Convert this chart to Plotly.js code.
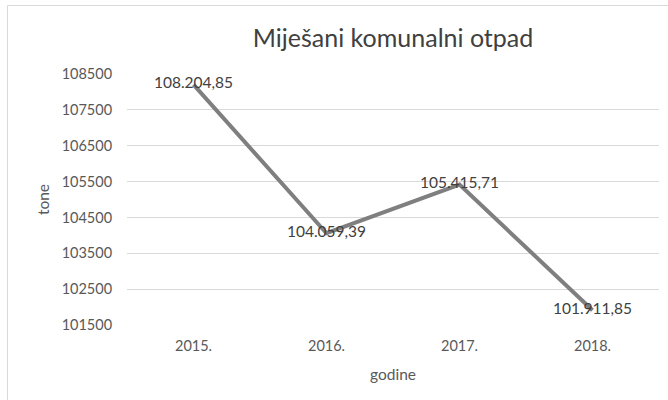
<!DOCTYPE html>
<html>
<head>
<meta charset="utf-8">
<script src="https://cdn.plot.ly/plotly-3.0.1.min.js"></script>
<style>html,body{margin:0;padding:0;background:#fff;}#chart{width:668px;height:400px;}</style>
</head>
<body>
<div id="chart"></div>
<script>
const years = ["2015.", "2016.", "2017.", "2018."];
const tonnes = [108204.85, 104059.39, 105415.71, 101911.85];
const yTicks = [101500, 102500, 103500, 104500, 105500, 106500, 107500, 108500];

function hr(v) {
  const parts = v.toFixed(2).split(".");
  const intPart = parts[0].replace(/\B(?=(\d{3})+(?!\d))/g, ".");
  return intPart + "," + parts[1];
}

const FONT = "Lato, 'Open Sans', sans-serif";
const L = 127, R = 659, T = 74, B = 325;
const px2x = p => (p - L) / (R - L);
const px2y = p => (B - p) / (B - T);

const trace = {
  x: years,
  y: tonnes,
  type: "scatter",
  mode: "lines+text",
  line: {color: "#7f7f7f", width: 4},
  text: tonnes.map(hr),
  textposition: "middle center",
  textfont: {family: FONT, size: 15.5, color: "#404040"},
  hoverinfo: "skip",
  cliponaxis: false
};

const layout = {
  width: 668, height: 400,
  margin: {l: L, r: 668 - R, t: T, b: 400 - B, pad: 0},
  paper_bgcolor: "#ffffff",
  plot_bgcolor: "#ffffff",
  showlegend: false,
  title: {
    text: "Miješani komunalni otpad",
    font: {family: FONT, size: 25, color: "#404040"},
    x: 0.5, xref: "paper", xanchor: "center",
    y: 1 - 38 / 400, yref: "container", yanchor: "middle"
  },
  xaxis: {
    type: "category",
    range: [-0.5, 3.5],
    showgrid: false,
    zeroline: false,
    showline: false,
    ticks: "outside", ticklen: 8, tickcolor: "rgba(0,0,0,0)",
    tickfont: {family: FONT, size: 14.5, color: "#595959"},
    title: {text: "godine", font: {family: FONT, size: 15.5, color: "#595959"}, standoff: 15}
  },
  yaxis: {
    range: [101500, 108500],
    tickvals: yTicks,
    ticktext: yTicks.map(String),
    showgrid: true, gridcolor: "#d9d9d9", gridwidth: 1,
    zeroline: false, showline: false,
    ticks: "outside", ticklen: 11, tickcolor: "rgba(0,0,0,0)",
    tickfont: {family: FONT, size: 14.5, color: "#595959"},
    title: {text: "tone", font: {family: FONT, size: 15.5, color: "#595959"}, standoff: 8}
  },
  shapes: [{
    type: "rect", xref: "paper", yref: "paper",
    x0: px2x(7.5), x1: px2x(672), y0: px2y(404), y1: px2y(5.5),
    line: {color: "#d9d9d9", width: 1}, fillcolor: "rgba(0,0,0,0)", layer: "below"
  }]
};

Plotly.newPlot("chart", [trace], layout, {displayModeBar: false, staticPlot: true});
</script>
</body>
</html>
